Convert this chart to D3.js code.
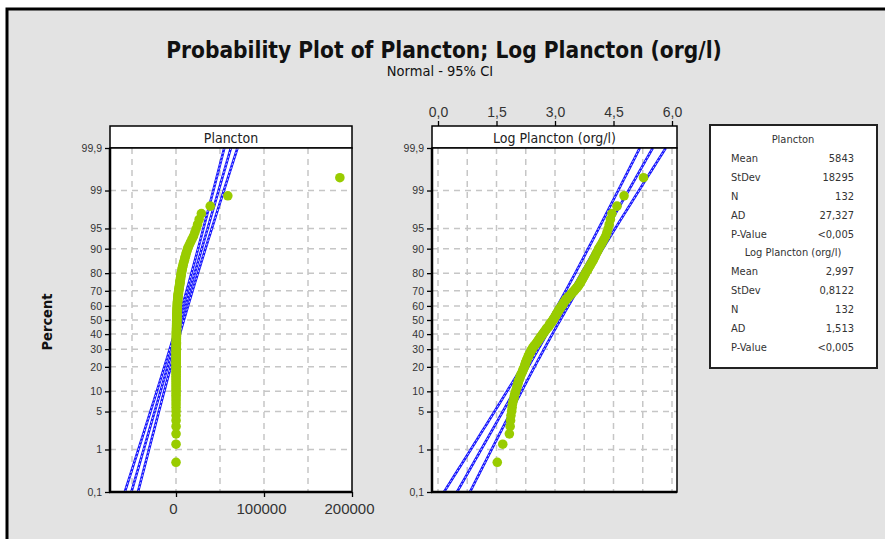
<!DOCTYPE html>
<html>
<head>
<meta charset="utf-8">
<script src="https://cdn.jsdelivr.net/npm/d3@7"></script>
<style>
  body { margin: 0; background: #fff; }
  svg { display: block; font-family: "DejaVu Sans Condensed", "DejaVu Sans", sans-serif; }
  .grid line { stroke: #c6c6c6; stroke-width: 1.5; stroke-dasharray: 6,5; }
  .axis path { display: none; }
  .axis line { stroke: #000; stroke-width: 1.3; }
  .axis text { fill: #333; }
  .ci { fill: none; stroke: #1414ff; stroke-width: 2.6; }
  .ci-inner { fill: none; stroke: #fff; stroke-width: 0.8; stroke-dasharray: 2,2; }
  .point { fill: #99cc00; }
</style>
</head>
<body>
<div id="chart"></div>
<script>
// probability axis ticks (percent)
const percentTicks = [0.1, 1, 5, 10, 20, 30, 40, 50, 60, 70, 80, 90, 95, 99, 99.9];
const planctonTicks = [0, 100000, 200000];
const planctonGrid = [-50000, 0, 50000, 100000, 150000];
const logTicks = [0, 1.5, 3, 4.5, 6];
const logGrid = [0, 0.75, 1.5, 2.25, 3, 3.75, 4.5, 5.25, 6];

// sorted Log Plancton (org/l) sample (n = 132)
const logPlancton = [
  1.52, 1.66, 1.83, 1.85, 1.86, 1.87, 1.89, 1.90, 1.91, 1.93,
  1.95, 1.96, 1.98, 2.00, 2.02, 2.03, 2.05, 2.06, 2.08, 2.10,
  2.11, 2.13, 2.15, 2.17, 2.18, 2.20, 2.22, 2.23, 2.24, 2.25,
  2.27, 2.28, 2.30, 2.31, 2.33, 2.34, 2.36, 2.38, 2.39, 2.41,
  2.43, 2.45, 2.47, 2.50, 2.52, 2.54, 2.56, 2.58, 2.60, 2.62,
  2.64, 2.66, 2.68, 2.70, 2.72, 2.74, 2.76, 2.78, 2.80, 2.83,
  2.85, 2.86, 2.88, 2.90, 2.92, 2.94, 2.96, 2.97, 2.99, 3.01,
  3.02, 3.04, 3.05, 3.07, 3.09, 3.10, 3.12, 3.14, 3.16, 3.18,
  3.20, 3.21, 3.23, 3.25, 3.27, 3.30, 3.32, 3.35, 3.38, 3.41,
  3.43, 3.46, 3.49, 3.52, 3.54, 3.57, 3.60, 3.62, 3.64, 3.66,
  3.68, 3.70, 3.72, 3.74, 3.76, 3.78, 3.80, 3.83, 3.85, 3.87,
  3.90, 3.92, 3.95, 3.98, 4.00, 4.03, 4.05, 4.08, 4.11, 4.14,
  4.18, 4.22, 4.26, 4.30, 4.33, 4.36, 4.39, 4.42, 4.46, 4.59,
  4.77, 5.27
];
// the raw counts (org/l)
const plancton = logPlancton.map(v => Math.pow(10, v));

// fitted normal parameters shown in the legend
const fitPlancton = {mean: 5843, sd: 18295, n: 132};
const fitLog = {mean: 2.997, sd: 0.8122, n: 132};

const statsPlancton = [['Mean', '5843'], ['StDev', '18295'], ['N', '132'], ['AD', '27,327'], ['P-Value', '<0,005']];
const statsLog = [['Mean', '2,997'], ['StDev', '0,8122'], ['N', '132'], ['AD', '1,513'], ['P-Value', '<0,005']];

const width = 885;
const height = 539;

// inverse normal cdf (Acklam)
let qnorm = p => {
  const a = [-39.6968302866538, 220.946098424521, -275.928510446969, 138.357751867269, -30.6647980661472, 2.50662827745924];
  const b = [-54.4760987982241, 161.585836858041, -155.698979859887, 66.8013118877197, -13.2806815528857];
  const c = [-0.00778489400243029, -0.322396458041136, -2.40075827716184, -2.54973253934373, 4.37466414146497, 2.93816398269878];
  const d = [0.00778469570904146, 0.32246712907004, 2.445134137143, 3.75440866190742];
  const pl = 0.02425;
  let q, r;
  if (p < pl) {
    q = Math.sqrt(-2 * Math.log(p));
    return (((((c[0]*q+c[1])*q+c[2])*q+c[3])*q+c[4])*q+c[5]) / ((((d[0]*q+d[1])*q+d[2])*q+d[3])*q+1);
  }
  if (p > 1 - pl) {
    q = Math.sqrt(-2 * Math.log(1 - p));
    return -(((((c[0]*q+c[1])*q+c[2])*q+c[3])*q+c[4])*q+c[5]) / ((((d[0]*q+d[1])*q+d[2])*q+d[3])*q+1);
  }
  q = p - 0.5; r = q * q;
  return (((((a[0]*r+a[1])*r+a[2])*r+a[3])*r+a[4])*r+a[5])*q / (((((b[0]*r+b[1])*r+b[2])*r+b[3])*r+b[4])*r+1);
};

let commaNum = s => String(s).replace('.', ',');

const plotTop = 148, plotBottom = 492;
const zMin = qnorm(0.001), zMax = qnorm(0.999);

let scaleZ = d3.scaleLinear().domain([zMin, zMax]).range([plotBottom, plotTop]);

let svg = d3.select('#chart').append('svg')
  .attr('width', width)
  .attr('height', height);

// frame
svg.append('rect')
  .attr('x', 7).attr('y', 9)
  .attr('width', width + 20).attr('height', height + 20)
  .attr('fill', '#e3e3e3')
  .attr('stroke', '#000')
  .attr('stroke-width', 3);

svg.append('text')
  .attr('x', 444).attr('y', 58)
  .attr('text-anchor', 'middle')
  .attr('font-size', 22.5).attr('font-weight', 'bold')
  .attr('fill', '#111')
  .text('Probability Plot of Plancton; Log Plancton (org/l)');

svg.append('text')
  .attr('x', 440).attr('y', 76)
  .attr('text-anchor', 'middle')
  .attr('font-size', 14.5)
  .attr('fill', '#111')
  .text('Normal - 95% CI');

svg.append('text')
  .attr('transform', 'translate(52, 322) rotate(-90)')
  .attr('text-anchor', 'middle')
  .attr('font-size', 14.5).attr('font-weight', 'bold')
  .attr('fill', '#111')
  .text('Percent');

let drawPanel = (opts) => {
  let {x0, x1, domain, values, fit, grid, title, id} = opts;
  let scaleX = d3.scaleLinear().domain(domain).range([x0, x1]);
  let n = values.length;

  let g = svg.append('g');

  // header strip
  g.append('rect')
    .attr('x', x0).attr('y', 126)
    .attr('width', x1 - x0).attr('height', plotTop - 126)
    .attr('fill', '#fff').attr('stroke', '#000').attr('stroke-width', 1.5);
  g.append('text')
    .attr('x', (x0 + x1) / 2).attr('y', 143)
    .attr('text-anchor', 'middle')
    .attr('font-size', 14).attr('fill', '#222')
    .text(title);

  g.append('rect')
    .attr('x', x0).attr('y', plotTop)
    .attr('width', x1 - x0).attr('height', plotBottom - plotTop)
    .attr('fill', '#fff');

  g.append('clipPath').attr('id', id)
    .append('rect')
    .attr('x', x0).attr('y', plotTop)
    .attr('width', x1 - x0).attr('height', plotBottom - plotTop);

  let gridG = g.append('g').classed('grid', true);
  gridG.selectAll('line.v').data(grid).enter().append('line')
    .attr('x1', d => scaleX(d)).attr('x2', d => scaleX(d))
    .attr('y1', plotTop).attr('y2', plotBottom);
  gridG.selectAll('line.h').data(percentTicks.slice(1, -1)).enter().append('line')
    .attr('x1', x0).attr('x2', x1)
    .attr('y1', d => scaleZ(qnorm(d / 100)))
    .attr('y2', d => scaleZ(qnorm(d / 100)));

  // fitted line and 95% CI
  let zs = d3.range(zMin, zMax + 0.001, (zMax - zMin) / 120);
  let lineFor = k => d3.line()
    .x(z => scaleX(fit.mean + z * fit.sd + k * 1.96 * fit.sd * Math.sqrt(1 / fit.n + z * z / (2 * fit.n))))
    .y(z => scaleZ(z));
  let ciG = g.append('g').attr('clip-path', `url(#${id})`);
  [-1, 0, 1].forEach(k => {
    ciG.append('path').classed('ci', true).datum(zs).attr('d', lineFor(k));
    ciG.append('path').classed('ci-inner', true).datum(zs).attr('d', lineFor(k));
  });

  // points at median ranks
  ciG.selectAll('circle.point').data(values).enter().append('circle')
    .classed('point', true)
    .attr('cx', d => scaleX(d))
    .attr('cy', (d, i) => scaleZ(qnorm((i + 1 - 0.3) / (n + 0.4))))
    .attr('r', 4.8);

  // y axis
  let yAxis = d3.axisLeft(scaleZ)
    .tickValues(percentTicks.map(p => qnorm(p / 100)))
    .tickFormat((d, i) => commaNum(percentTicks[i]))
    .tickSize(5).tickPadding(3);
  g.append('g').classed('axis', true)
    .attr('transform', `translate(${x0}, 0)`)
    .call(yAxis)
    .selectAll('text').attr('font-size', 10.5);

  g.append('rect')
    .attr('x', x0).attr('y', plotTop)
    .attr('width', x1 - x0).attr('height', plotBottom - plotTop)
    .attr('fill', 'none').attr('stroke', '#000').attr('stroke-width', 1.5);
  g.append('line')
    .attr('x1', x0).attr('x2', x0).attr('y1', plotTop).attr('y2', plotBottom + 1)
    .attr('stroke', '#000').attr('stroke-width', 2.5);
  g.append('line')
    .attr('x1', x0 - 1).attr('x2', x1).attr('y1', plotBottom).attr('y2', plotBottom)
    .attr('stroke', '#000').attr('stroke-width', 2.5);

  return scaleX;
};

let xPl = drawPanel({
  x0: 110, x1: 352, domain: [-75000, 200000],
  values: plancton, fit: fitPlancton, grid: planctonGrid,
  title: 'Plancton', id: 'clip-pl'
});

let xLog = drawPanel({
  x0: 432, x1: 677, domain: [-6 / 39, 239 / 39],
  values: logPlancton, fit: fitLog, grid: logGrid,
  title: 'Log Plancton (org/l)', id: 'clip-log'
});

let bottomAxis = svg.append('g').classed('axis', true)
  .attr('transform', `translate(0, ${plotBottom})`)
  .call(d3.axisBottom(xPl).tickValues(planctonTicks).tickFormat(d3.format('d')).tickSize(5).tickPadding(6));
bottomAxis.selectAll('text').attr('font-size', 15).attr('fill', '#222');
bottomAxis.selectAll('.tick text').attr('dx', -3);

svg.append('g').classed('axis', true)
  .attr('transform', 'translate(0, 126)')
  .call(d3.axisTop(xLog).tickValues(logTicks).tickFormat(d => commaNum(d.toFixed(1))).tickSize(5).tickPadding(4))
  .selectAll('text').attr('font-size', 14).attr('fill', '#222');

// legend
let legend = svg.append('g');
legend.append('rect')
  .attr('x', 710).attr('y', 125)
  .attr('width', 167).attr('height', 243)
  .attr('fill', '#fff').attr('stroke', '#222').attr('stroke-width', 2);

const rowH = 18.9;
let legendBlock = (name, rows, y0) => {
  legend.append('text')
    .attr('x', 793).attr('y', y0)
    .attr('text-anchor', 'middle')
    .attr('font-size', 11).attr('fill', '#333')
    .text(name);
  rows.forEach((r, i) => {
    legend.append('text')
      .attr('x', 731).attr('y', y0 + (i + 1) * rowH)
      .attr('font-size', 11).attr('fill', '#333')
      .text(r[0]);
    legend.append('text')
      .attr('x', 854).attr('y', y0 + (i + 1) * rowH)
      .attr('text-anchor', 'end')
      .attr('font-size', 11).attr('fill', '#333')
      .text(r[1]);
  });
};
legendBlock('Plancton', statsPlancton, 143);
legendBlock('Log Plancton (org/l)', statsLog, 143 + 6 * rowH);
</script>
</body>
</html>
